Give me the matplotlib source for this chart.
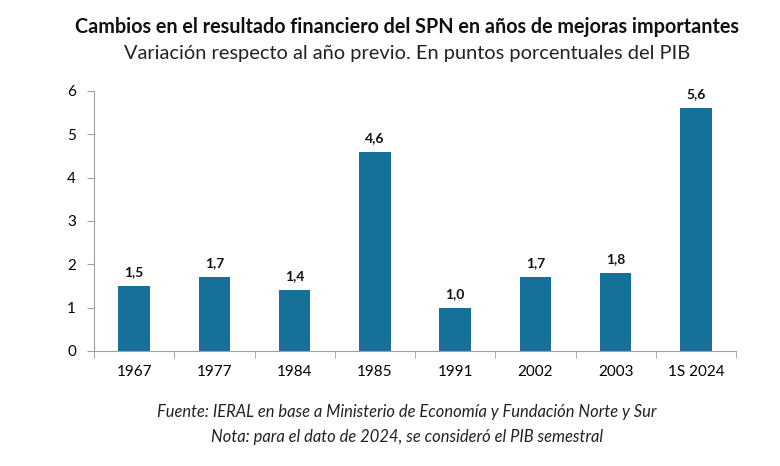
import matplotlib
matplotlib.use("Agg")
import matplotlib.pyplot as plt
import numpy as np

categories = ["1967", "1977", "1984", "1985", "1991", "2002", "2003", "1S 2024"]
values = [1.5, 1.7, 1.4, 4.6, 1.0, 1.7, 1.8, 5.6]
labels = ["1,5", "1,7", "1,4", "4,6", "1,0", "1,7", "1,8", "5,6"]

plt.rcParams['font.family'] = ['Lato', 'DejaVu Sans']

fig = plt.figure(figsize=(7.8, 4.66), dpi=100)
ax = fig.add_axes([94/780, 1-351/466, (736-94)/780, (351-91)/466])

x = np.arange(len(categories))
color = "#17709A"
ax.bar(x, values, width=0.39, color=color, zorder=2)
for xi, v, lab in zip(x, values, labels):
    ax.text(xi, v + 0.18, lab, ha='center', va='bottom', fontsize=10, fontweight='bold', color='#111111')

ax.set_xlim(-0.5, len(categories) - 0.5)
ax.set_ylim(0, 6)
ax.set_yticks(range(0, 7))
ax.set_xticks(x)
ax.set_xticklabels(categories)
ax.set_xticks(np.arange(-0.5, len(categories)), minor=True)
ax.tick_params(axis='x', which='major', length=0, pad=10, labelsize=11)
ax.tick_params(axis='x', which='minor', length=5, color='#a0a0a0')
ax.tick_params(axis='y', length=5, color='#a0a0a0', labelsize=11, pad=8)
for s in ['top', 'right']:
    ax.spines[s].set_visible(False)
for s in ['left', 'bottom']:
    ax.spines[s].set_color('#a0a0a0')

cx = 407/780
fig.text(cx, 1-27/466, "Cambios en el resultado financiero del SPN en años de mejoras importantes",
         ha='center', va='center', fontsize=14.2, fontweight='bold', color='#111111')
fig.text(cx, 1-53/466, "Variación respecto al año previo. En puntos porcentuales del PIB",
         ha='center', va='center', fontsize=14.4, color='#222222')
fig.text(cx, 1-412/466, "Fuente: IERAL en base a Ministerio de Economía y Fundación Norte y Sur",
         ha='center', va='center', fontsize=11.9, style='italic', color='#222222')
fig.text(cx, 1-437/466, "Nota: para el dato de 2024, se consideró el PIB semestral",
         ha='center', va='center', fontsize=11.9, style='italic', color='#222222')

fig.savefig("out.png", dpi=100)
